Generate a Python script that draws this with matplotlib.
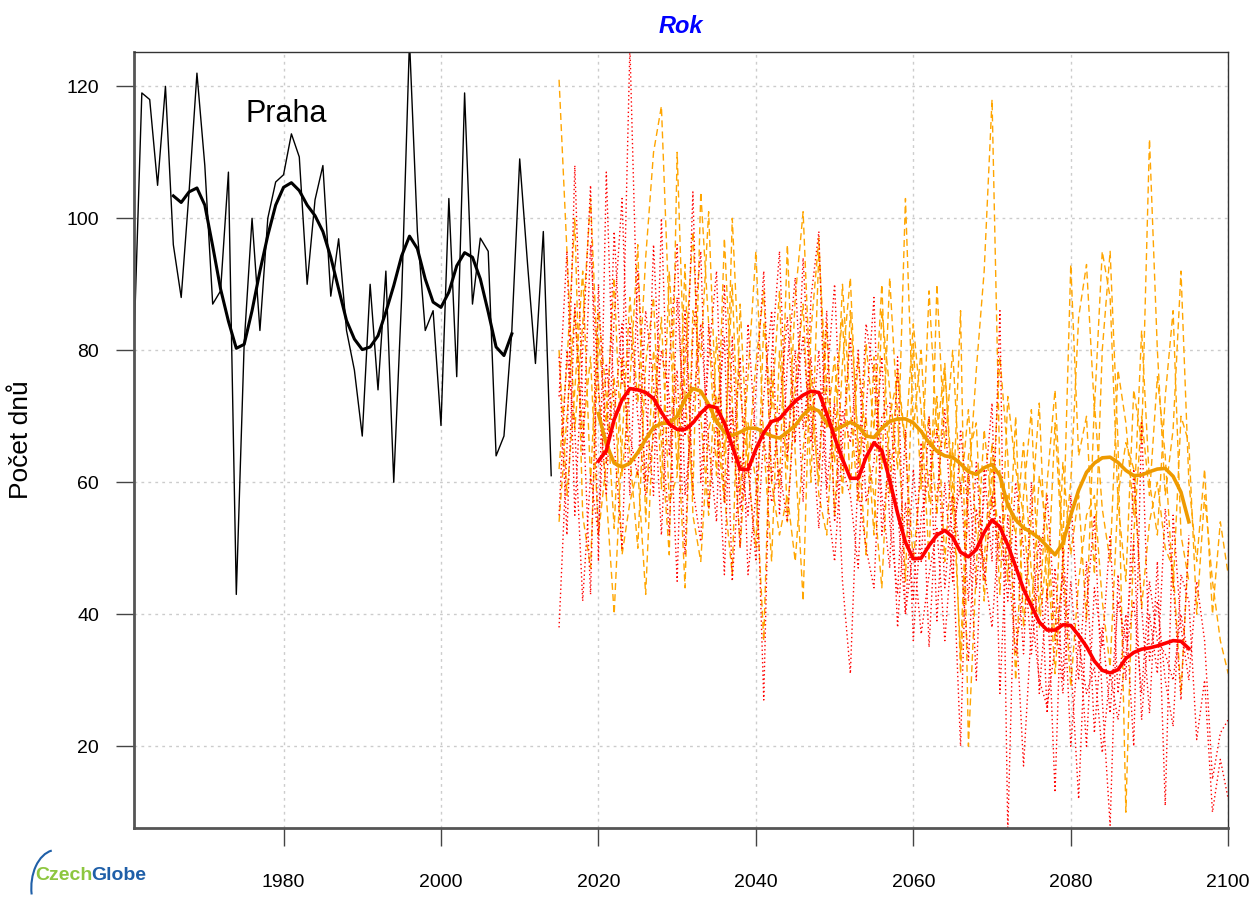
import matplotlib.pyplot as plt
import matplotlib.patches as mpatches
import numpy as np

# observed days per year, Praha
obs_years = np.arange(1961, 2015)
obs_days = [81, 119, 118, 105, 120, 96, 88, 104, 122, 108,
            87, 89, 107, 43, 81, 100, 83, 100, 105.5, 106.6,
            112.8, 109.3, 90, 102.8, 108, 88.2, 96.9, 83, 77, 67,
            90, 74, 92, 60, 88, 127, 98, 83, 86, 68.6,
            103, 76, 119, 87, 97, 95, 64, 67, 83, 109,
            93, 78, 98, 61]

obs_smooth_years = np.arange(1966, 2010)
obs_smooth = [103.4, 102.4, 104, 104.6, 102, 95.8, 89.3, 84.4, 80.3, 80.9,
              86, 92, 97.4, 102, 104.7, 105.4, 104.2, 102, 100.4, 98,
              94.1, 89.3, 84.5, 81.7, 80.1, 80.5, 82.2, 85.8, 89.8, 94.3,
              97.3, 95.4, 90.8, 87.3, 86.5, 88.8, 92.8, 94.8, 94.1, 90.8,
              85.8, 80.5, 79.2, 82.5]

# scenario runs (orange dashed), 2015-2100 / 2015-2095
orange_run1 = [121, 95, 68, 84, 103, 75, 58, 40, 66, 88,
               72, 94, 110, 117, 85, 62, 78, 98, 70, 55,
               82, 64, 90, 58, 76, 95, 66, 48, 80, 62,
               88, 101, 72, 60, 84, 55, 78, 91, 63, 70,
               52, 86, 74, 62, 103, 68, 80, 57, 73, 48,
               66, 31, 59, 77, 92, 118, 61, 45, 70, 38,
               55, 72, 42, 69, 48, 60, 85, 93, 71, 95,
               88, 57, 45, 74, 66, 112, 80, 58, 68, 92,
               60, 48, 62, 40, 54, 46]
orange_run2 = [62, 78, 100, 55, 47, 82, 69, 91, 61, 75,
               96, 54, 80, 66, 49, 110, 73, 58, 104, 84,
               61, 97, 72, 50, 69, 60, 36, 77, 59, 96,
               64, 42, 83, 97, 68, 79, 58, 86, 66, 49,
               79, 62, 91, 70, 45, 81, 59, 89, 67, 78,
               55, 86, 20, 47, 68, 56, 79, 64, 30, 58,
               71, 40, 60, 74, 50, 93, 64, 70, 46, 80,
               95, 66, 10, 52, 70, 58, 76, 64, 44, 70,
               66, 40, 58, 45, 36, 31]
orange_run3 = [80, 58, 74, 92, 60, 86, 73, 53, 79, 64,
               50, 78, 88, 59, 92, 70, 44, 86, 79, 101,
               69, 57, 100, 74, 62, 50, 84, 71, 89, 54,
               75, 87, 60, 95, 74, 63, 90, 71, 57, 81,
               68, 90, 58, 77, 66, 84, 71, 48, 90, 65,
               80, 58, 71, 52, 48, 66, 43, 73, 62, 55,
               40, 61, 53, 36, 63, 49, 58, 39, 72, 56,
               48, 77, 69, 55, 83, 60, 52, 73, 86, 52,
               45]
orange_run4 = [54, 70, 86, 67, 79, 52, 63, 76, 49, 57,
               62, 43, 70, 85, 57, 61, 93, 55, 48, 68,
               73, 58, 46, 87, 63, 78, 89, 60, 52, 58,
               48, 65, 77, 58, 52, 73, 85, 59, 79, 66,
               58, 44, 70, 76, 65, 48, 62, 70, 55, 77,
               59, 34, 64, 69, 42, 62, 50, 58, 52, 66,
               46, 38, 50, 31, 48, 29, 45, 55, 58, 42,
               32, 58, 66, 62, 41, 54, 60, 50, 47, 28,
               51]

# scenario runs (red dotted)
red_run1 = [38, 65, 108, 72, 43, 90, 63, 98, 75, 126,
            81, 60, 96, 70, 52, 88, 67, 104, 60, 79,
            92, 57, 71, 50, 84, 66, 27, 79, 95, 64,
            80, 57, 88, 98, 59, 72, 45, 31, 62, 84,
            76, 58, 47, 79, 40, 62, 48, 70, 39, 60,
            45, 68, 55, 30, 62, 48, 86, 7, 52, 34,
            60, 28, 44, 13, 50, 33, 12, 41, 55, 27,
            8, 46, 30, 62, 41, 25, 48, 11, 55, 38,
            30, 45, 36, 15, 22, 24]
red_run2 = [73, 95, 55, 80, 105, 48, 107, 70, 84, 58,
            92, 72, 58, 100, 64, 77, 49, 82, 95, 56,
            69, 82, 45, 64, 55, 74, 92, 60, 71, 85,
            66, 94, 70, 53, 75, 90, 62, 58, 47, 71,
            88, 52, 65, 38, 57, 42, 66, 35, 58, 71,
            50, 20, 62, 44, 58, 72, 28, 55, 40, 17,
            38, 52, 25, 47, 30, 58, 38, 20, 44, 35,
            52, 28, 40, 20, 69, 33, 42, 30, 23, 46,
            42, 21, 30, 10, 18, 12]
red_run3 = [79, 52, 87, 64, 96, 74, 58, 85, 103, 67,
            61, 86, 75, 52, 78, 96, 58, 71, 84, 66,
            54, 90, 63, 79, 46, 58, 73, 86, 55, 78,
            91, 68, 79, 62, 86, 54, 71, 66, 80, 57,
            63, 79, 54, 43, 68, 36, 55, 61, 68, 44,
            58, 49, 33, 56, 47, 38, 55, 42, 60, 50,
            34, 47, 58, 40, 28, 45, 30, 48, 22, 38,
            25, 42, 36, 51, 24, 40, 31, 56, 45, 27,
            52]
red_run4 = [55, 80, 68, 42, 61, 52, 78, 66, 50, 84,
            70, 58, 67, 80, 73, 45, 86, 59, 51, 84,
            70, 46, 82, 56, 63, 48, 67, 57, 62, 54,
            73, 82, 66, 80, 58, 48, 66, 82, 59, 50,
            44, 70, 72, 56, 40, 50, 37, 46, 53, 36,
            52, 60, 42, 63, 45, 58, 48, 49, 34, 44,
            41, 30, 26, 35, 46, 20, 36, 28, 32, 19,
            31, 24, 34, 42, 28, 45, 36, 34, 30, 40,
            33]

# smoothed scenario means, 2020-2095
smooth_years = np.arange(2020, 2096)
orange_smooth = [70.4, 65.8, 62.9, 62.3, 62.9, 64.5, 66.5, 68.3, 68.9, 69.0,
                 70.0, 72.6, 74.2, 73.8, 71.8, 69.2, 67.6, 67.1, 67.6, 68.2,
                 68.2, 67.6, 67.0, 66.7, 67.6, 68.6, 70.2, 71.3, 70.8, 69.0,
                 67.9, 68.5, 69.1, 68.5, 67.0, 66.8, 68.2, 69.2, 69.6, 69.6,
                 69.0, 67.7, 66.0, 64.7, 64.0, 63.8, 62.8, 61.6, 61.2, 62.2,
                 62.7, 61.0, 56.5, 54.3, 53.1, 52.4, 51.5, 50.3, 49.0, 50.8,
                 55.0, 58.8, 61.5, 62.9, 63.7, 63.8, 63.0, 61.8, 61.0, 61.1,
                 61.6, 62.0, 62.1, 60.9, 58.5, 54.0]
red_smooth = [63.2, 64.8, 69.5, 72.5, 74.2, 74.0, 73.6, 72.7, 70.6, 68.8,
              68.0, 68.0, 69.0, 70.5, 71.6, 71.3, 69.0, 65.5, 62.0, 61.9,
              65.0, 67.5, 69.2, 69.6, 71.0, 72.3, 73.2, 73.8, 73.6, 70.4,
              66.8, 63.5, 60.6, 60.6, 63.8, 66.0, 64.8, 60.3, 55.3, 50.9,
              48.4, 48.5, 50.4, 52.0, 52.7, 51.7, 49.4, 48.7, 49.8, 52.4,
              54.3, 53.2, 50.5, 47.2, 43.8, 41.3, 38.8, 37.6, 37.6, 38.4,
              38.3, 36.8, 35.1, 32.9, 31.5, 31.1, 31.6, 33.3, 34.2, 34.7,
              34.9, 35.2, 35.6, 36.0, 35.9, 34.8]

x_ticks = [1980, 2000, 2020, 2040, 2060, 2080, 2100]
y_ticks = [20, 40, 60, 80, 100, 120]

plt.rcParams['font.family'] = ['Liberation Sans', 'DejaVu Sans']

fig = plt.figure(figsize=(12.52, 8.97), dpi=100)
ax = fig.add_axes([0.107, 0.0769, 0.874, 0.8651])

# ensemble runs
for run in [orange_run1, orange_run2, orange_run3, orange_run4]:
    yrs = np.arange(2015, 2015 + len(run))
    ax.plot(yrs, run, color='#FFA500', lw=1.0, dashes=(5, 3))
for run in [red_run1, red_run2, red_run3, red_run4]:
    yrs = np.arange(2015, 2015 + len(run))
    ax.plot(yrs, run, color='#FF0000', lw=1.0, dashes=(1, 2))

# observations
ax.plot(obs_years, obs_days, color='black', lw=1.0)
ax.plot(obs_smooth_years, obs_smooth, color='black', lw=2.2)

# smoothed scenario lines
ax.plot(smooth_years, orange_smooth, color='#EE9A00', lw=2.6)
ax.plot(smooth_years, red_smooth, color='#FF0000', lw=2.6)

ax.set_xlim(1961, 2100)
ax.set_ylim(7.6, 125.2)
ax.set_xticks(x_ticks)
ax.set_yticks(y_ticks)
ax.grid(True, color='#cccccc', linestyle=(0, (2, 3)), lw=1.0)
ax.set_axisbelow(True)

ax.tick_params(axis='x', direction='out', length=13, width=1, color='#444444',
               labelsize=14, pad=20)
ax.tick_params(axis='y', direction='out', length=13, width=1, color='#444444',
               labelsize=14, pad=12)

for side in ['left', 'bottom']:
    ax.spines[side].set_color('#555555')
    ax.spines[side].set_linewidth(2)
for side in ['top', 'right']:
    ax.spines[side].set_color('#333333')
    ax.spines[side].set_linewidth(1)

ax.set_ylabel('Počet dnů', fontsize=19, labelpad=24)
ax.set_title('Rok', color='#0000FF', fontsize=17, fontweight='bold',
             fontstyle='italic', pad=14)
ax.text(0.102, 0.94, 'Praha', transform=ax.transAxes, fontsize=22,
        va='top', ha='left')

# CzechGlobe logo text
fig.text(0.028, 0.0145, 'Czech', color='#8DC63F', fontsize=14,
         fontweight='bold', ha='left', va='bottom')
fig.text(0.0732, 0.0145, 'Globe', color='#1F5FA8', fontsize=14,
         fontweight='bold', ha='left', va='bottom')
fig.add_artist(mpatches.Arc((0.045, 0.01), 0.04, 0.085, theta1=95, theta2=200,
                            transform=fig.transFigure, color='#1F5FA8', lw=1.5))

plt.savefig('out.png', dpi=100)
